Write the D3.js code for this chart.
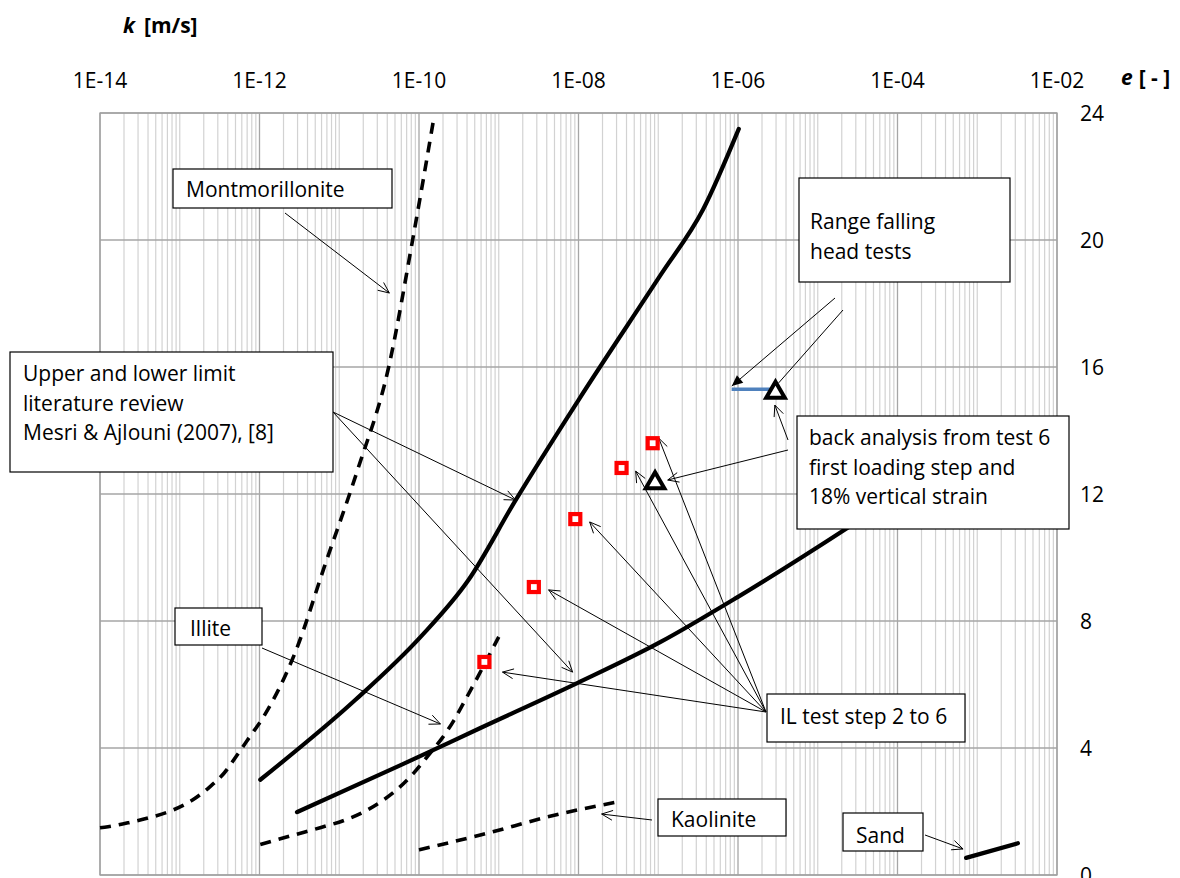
<!DOCTYPE html>
<html><head><meta charset="utf-8">
<script src="https://cdn.jsdelivr.net/npm/d3@7"></script>
<style>body{margin:0;background:#fff;} text{font-family:"Open Sans",Lato,sans-serif;}</style>
</head><body><svg id="c" width="1180" height="878"></svg>
<script>
// ---- data (log10 k [m/s], e [-]) ----
const xTickExps = [-14,-12,-10,-8,-6,-4,-2];
const xTickLabels = ["1E-14","1E-12","1E-10","1E-08","1E-06","1E-04","1E-02"];
const yTicks = [0,4,8,12,16,20,24];
const montmorillonite = [[-14.0,1.49],[-13.9,1.52],[-13.62,1.66],[-13.33,1.84],[-13.08,2.05],[-12.84,2.36],[-12.63,2.76],[-12.44,3.22],[-12.28,3.78],[-12.12,4.36],[-11.95,4.98],[-11.54,7.09],[-11.18,9.76],[-10.77,12.76],[-10.38,16.0],[-10.08,20.0],[-9.82,23.75]];
const illite = [[-11.99,0.96],[-11.57,1.26],[-11.24,1.49],[-10.94,1.72],[-10.69,1.99],[-10.46,2.34],[-10.25,2.75],[-10.07,3.2],[-9.86,3.84],[-9.71,4.31],[-9.56,4.88],[-9.44,5.42],[-9.0,7.5]];
const kaolinite = [[-10.0,0.79],[-9.23,1.26],[-8.19,1.95],[-7.51,2.3]];
const sand = [[-3.14,0.54],[-2.49,1.0]];
const upperLimit = [[-11.99,3.0],[-10.8,5.51],[-9.98,7.5],[-9.38,9.29],[-8.79,11.8],[-8.0,14.96],[-6.97,18.9],[-6.44,20.95],[-5.99,23.5]];
const lowerLimit = [[-11.53,1.98],[-10.23,3.46],[-9.23,4.63],[-8.01,6.05],[-6.97,7.34],[-6.0,8.76],[-4.61,10.96],[-4.21,11.62]];
const ilTests = [[-9.18,6.71],[-8.56,9.07],[-8.04,11.21],[-7.46,12.82],[-7.07,13.6]];
const backAnalysis = [[-7.04,12.35],[-5.53,15.2]];
const fallingHeadRange = [[-6.08,15.3],[-5.53,15.3]];

// ---- scales ----
const svg = d3.select("#c");
const x = d3.scaleLog().domain([1e-14,1e-2]).range([100,1057]);
const y = d3.scaleLinear().domain([0,24]).range([875,113]);
const X = v => x(Math.pow(10,v));
const lineC = d3.line().x(d=>X(d[0])).y(d=>y(d[1])).curve(d3.curveMonotoneX);
const FS = 21;

// ---- grid ----
const g = svg.append("g");
const minor = [];
for(let n=-14;n<-2;n++) for(let k=1;k<=9;k++){ if(k===1 && n%2===0) continue; minor.push(k*Math.pow(10,n)); }
g.selectAll(".mn").data(minor).join("line").attr("x1",d=>x(d)).attr("x2",d=>x(d)).attr("y1",y(24)).attr("y2",y(0)).attr("stroke","#d2d2d2").attr("stroke-width",1.2);
g.selectAll(".mj").data(xTickExps).join("line").attr("x1",d=>X(d)).attr("x2",d=>X(d)).attr("y1",y(24)).attr("y2",y(0)).attr("stroke","#a6a6a6").attr("stroke-width",1.3);
g.selectAll(".hy").data(yTicks).join("line").attr("x1",100).attr("x2",1057).attr("y1",d=>y(d)).attr("y2",d=>y(d)).attr("stroke","#a6a6a6").attr("stroke-width",1.3);
g.append("rect").attr("x",100).attr("y",y(24)).attr("width",957).attr("height",y(0)-y(24)).attr("fill","none").attr("stroke","#a0a0a0").attr("stroke-width",1.3);

// tick labels
svg.selectAll(".xl").data(xTickExps).join("text").attr("x",d=>X(d)).attr("y",88).attr("text-anchor","middle").attr("font-size",FS).attr("fill","#000").text((d,i)=>xTickLabels[i]);
svg.selectAll(".yl").data(yTicks).join("text").attr("x",1080).attr("y",d=>y(d)+7.5).attr("font-size",FS).attr("fill","#000").text(d=>d);
// axis titles
const t1 = svg.append("text").attr("x",123).attr("y",33).attr("font-size",FS).attr("font-weight","bold");
t1.append("tspan").attr("font-style","italic").text("k");
t1.append("tspan").attr("dx",9).text("[m/s]");
const t2 = svg.append("text").attr("x",1121).attr("y",85).attr("font-size",FS).attr("font-weight","bold");
t2.append("tspan").attr("font-style","italic").text("e");
t2.append("tspan").attr("dx",6).text("[ - ]");

// ---- curves ----
const dashed = [montmorillonite, illite, kaolinite];
svg.selectAll(".dc").data(dashed).join("path").attr("d",d=>lineC(d)).attr("fill","none").attr("stroke","#000").attr("stroke-width",3.6).attr("stroke-dasharray","11,8");
svg.selectAll(".sc").data([upperLimit, lowerLimit, sand]).join("path").attr("d",d=>lineC(d)).attr("fill","none").attr("stroke","#000").attr("stroke-width",4.2).attr("stroke-linecap","round");

// ---- annotations (arrows: start px, tip in data space) ----
const arrows = [
 {s:[285,213], t:[-10.372,18.33]},
 {s:[333,412], t:[-8.79,11.81]},
 {s:[333,412], t:[-8.074,6.39]},
 {s:[262,648], t:[-9.731,4.756]},
 {s:[652,820], t:[-7.71,1.92]},
 {s:[925,835], t:[-3.178,0.82]},
 {s:[835,298], t:[-6.078,15.4], filled:true},
 {s:[843,310], t:[-5.49,15.5], nohead:true},
 {s:[788,440], t:[-5.538,14.8]},
 {s:[788,450], t:[-6.881,12.44]},
 {s:[766,712], t:[-6.994,13.76]},
 {s:[766,712], t:[-7.283,12.72]},
 {s:[766,712], t:[-7.86,11.12]},
 {s:[766,712], t:[-8.375,8.98]},
 {s:[766,712], t:[-8.953,6.39]}
];
const ag = svg.append("g");
arrows.forEach(a=>{
  const tx = X(a.t[0]), ty = y(a.t[1]);
  ag.append("line").attr("x1",a.s[0]).attr("y1",a.s[1]).attr("x2",tx).attr("y2",ty).attr("stroke","#000").attr("stroke-width",1);
  if(a.nohead) return;
  const ang = Math.atan2(a.s[1]-ty, a.s[0]-tx), L=12, w=0.42;
  const p1=[tx+L*Math.cos(ang+w), ty+L*Math.sin(ang+w)], p2=[tx+L*Math.cos(ang-w), ty+L*Math.sin(ang-w)];
  if(a.filled){
    ag.append("path").attr("d",`M${p1}L${tx},${ty}L${p2}Z`).attr("fill","#000");
  } else {
    ag.append("path").attr("d",`M${p1}L${tx},${ty}L${p2}`).attr("fill","none").attr("stroke","#000").attr("stroke-width",1);
  }
});

const boxes = [
 {x0:173,y0:169,x1:392,y1:208,tx:186,lines:["Montmorillonite"],b0:197},
 {x0:10,y0:352,x1:333,y1:472,tx:23,lines:["Upper and lower limit","literature review","Mesri & Ajlouni (2007), [8]"],b0:381},
 {x0:799,y0:178,x1:1010,y1:282,tx:810,lines:["Range falling","head tests"],b0:229},
 {x0:797,y0:416,x1:1069,y1:529,tx:809,lines:["back analysis from test 6","first loading step and","18% vertical strain"],b0:445},
 {x0:767,y0:694,x1:965,y1:742,tx:780,lines:["IL test step 2 to 6"],b0:724},
 {x0:175,y0:608,x1:262,y1:645,tx:190,lines:["Illite"],b0:636},
 {x0:658,y0:799,x1:786,y1:836,tx:671,lines:["Kaolinite"],b0:827},
 {x0:843,y0:813,x1:923,y1:851,tx:856,lines:["Sand"],b0:843}
];
boxes.forEach(b=>{
  svg.append("rect").attr("x",b.x0).attr("y",b.y0).attr("width",b.x1-b.x0).attr("height",b.y1-b.y0).attr("fill","#fff").attr("stroke","#000").attr("stroke-width",1.2);
  b.lines.forEach((l,i)=>svg.append("text").attr("x",b.tx).attr("y",b.b0+i*29.5).attr("font-size",FS).attr("fill","#000").text(l));
});

// ---- markers ----
svg.append("path").datum(fallingHeadRange).attr("d",d3.line().x(d=>X(d[0])).y(d=>y(d[1]))).attr("stroke","#4f81bd").attr("stroke-width",3.5).attr("fill","none");
svg.selectAll(".sq").data(ilTests).join("rect").attr("x",d=>X(d[0])-5).attr("y",d=>y(d[1])-5).attr("width",10).attr("height",10).attr("fill","#fff").attr("stroke","#ff0000").attr("stroke-width",4.2);
const tri = d3.symbol().type(d3.symbolTriangle).size(150);
svg.selectAll(".tr").data(backAnalysis).join("path").attr("d",tri).attr("transform",d=>`translate(${X(d[0])},${y(d[1])})`).attr("fill","#fff").attr("stroke","#000").attr("stroke-width",4).attr("stroke-linejoin","miter");
</script></body></html>
